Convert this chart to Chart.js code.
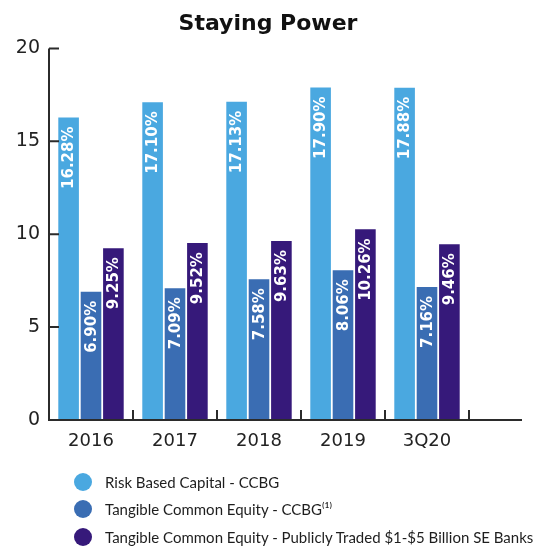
<!DOCTYPE html>
<html>
<head>
<meta charset="utf-8">
<script src="https://cdn.jsdelivr.net/npm/chart.js@4/dist/chart.umd.min.js"></script>
<style>
  html, body { margin: 0; padding: 0; background: #fff; }
  #wrap { position: relative; width: 536px; height: 548px; }
  #legend { position: absolute; left: 74px; top: 468px; font-family: "Lato", sans-serif; font-size: 15px; color: #1e1e1e; }
  #legend div { display: flex; align-items: center; height: 27.5px; }
  #legend span.dot { display: inline-block; width: 18px; height: 18px; border-radius: 50%; margin-right: 13px; }
</style>
</head>
<body>
<div id="wrap">
  <canvas id="chart" width="536" height="548"></canvas>
  <div id="legend"></div>
</div>
<script>
const years = ['2016', '2017', '2018', '2019', '3Q20'];
const seriesNames = [
    'Risk Based Capital - CCBG',
    'Tangible Common Equity - CCBG\u207D\u00B9\u207E',
    'Tangible Common Equity - Publicly Traded $1-$5 Billion SE Banks'
];
const riskBased = [16.28, 17.10, 17.13, 17.90, 17.88];
const tceCCBG = [6.90, 7.09, 7.58, 8.06, 7.16];
const tcePeers = [9.25, 9.52, 9.63, 10.26, 9.46];
const yTicks = [0, 5, 10, 15, 20];
const colors = ['#4aa8e0', '#3a6db3', '#36197a'];

const axisColor = '#2b2b2b';

// values written up the bar, near its top
const barLabels = {
    id: 'barLabels',
    afterDatasetsDraw(chart) {
        const ctx = chart.ctx;
        ctx.save();
        ctx.fillStyle = '#fff';
        ctx.font = 'bold 15px "DejaVu Sans", sans-serif';
        ctx.textAlign = 'right';
        ctx.textBaseline = 'middle';
        chart.data.datasets.forEach((ds, i) => {
            chart.getDatasetMeta(i).data.forEach((bar, j) => {
                ctx.save();
                ctx.translate(bar.x + 1, bar.y + 9);
                ctx.rotate(-Math.PI / 2);
                ctx.fillText(ds.data[j].toFixed(2) + '%', 0, 0);
                ctx.restore();
            });
        });
        ctx.restore();
    }
};

// axis lines with inward ticks
const axes = {
    id: 'axes',
    afterDraw(chart) {
        const ctx = chart.ctx;
        const y = chart.scales.y;
        const a = chart.chartArea;
        ctx.save();
        ctx.strokeStyle = axisColor;
        ctx.lineWidth = 2;
        ctx.beginPath();
        ctx.moveTo(a.left, y.getPixelForValue(20));
        ctx.lineTo(a.left, a.bottom);
        ctx.lineTo(chart.width - 14, a.bottom);
        yTicks.forEach(v => {
            if (v === 0) return;
            const py = y.getPixelForValue(v);
            ctx.moveTo(a.left, py);
            ctx.lineTo(a.left + 10, py);
        });
        for (let i = 1; i <= years.length; i++) {
            const px = a.left + (a.right - a.left) * i / years.length;
            ctx.moveTo(px, a.bottom);
            ctx.lineTo(px, a.bottom - 10);
        }
        ctx.stroke();
        ctx.restore();
    }
};

new Chart('chart', {
    type: 'bar',
    data: {
        labels: years,
        datasets: [riskBased, tceCCBG, tcePeers].map((d, i) => ({
            label: seriesNames[i],
            data: d,
            backgroundColor: colors[i],
            categoryPercentage: 0.8,
            barPercentage: 0.92
        }))
    },
    options: {
        responsive: false,
        animation: false,
        layout: { padding: { top: 0, right: 0, bottom: 97, left: 0 } },
        plugins: {
            legend: { display: false },
            tooltip: { enabled: false },
            title: {
                display: true,
                text: 'Staying Power',
                color: '#111',
                font: { family: '"DejaVu Sans", sans-serif', size: 22, weight: 'bold' },
                padding: { top: 11, bottom: 11 }
            }
        },
        scales: {
            x: {
                grid: { display: false, drawTicks: false },
                border: { display: false },
                ticks: { color: '#222', padding: 11, font: { family: '"DejaVu Sans", sans-serif', size: 18 } },
                afterFit(s) { s.height = 31; }
            },
            y: {
                min: 0,
                max: 20,
                afterBuildTicks(s) { s.ticks = yTicks.map(v => ({ value: v })); },
                grid: { display: false, drawTicks: false },
                border: { display: false },
                ticks: { color: '#222', padding: 9, font: { family: '"DejaVu Sans", sans-serif', size: 19 } },
                afterFit(s) { s.width = 49; }
            },
            // empty strip on the right so the bars stop short of the axis end
            side: {
                position: 'right',
                display: true,
                grid: { display: false, drawTicks: false },
                border: { display: false },
                ticks: { display: false },
                afterFit(s) { s.width = 67; }
            }
        }
    },
    plugins: [barLabels, axes]
});

const legend = document.getElementById('legend');
seriesNames.forEach((name, i) => {
    const row = document.createElement('div');
    const dot = document.createElement('span');
    dot.className = 'dot';
    dot.style.background = colors[i];
    row.appendChild(dot);
    row.appendChild(document.createTextNode(name));
    legend.appendChild(row);
});
</script>
</body>
</html>
